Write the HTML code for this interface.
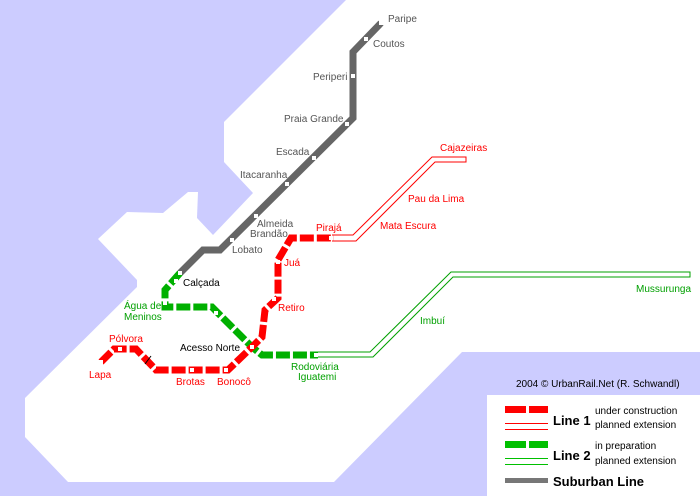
<!DOCTYPE html>
<html><head><meta charset="utf-8"><style>
body{margin:0;background:#ccccff}
svg{display:block}
text{font-family:"Liberation Sans",sans-serif;font-size:10px}
</style></head><body>
<svg width="700" height="496" viewBox="0 0 700 496" xmlns="http://www.w3.org/2000/svg">
<rect width="700" height="496" fill="#ccccff"/>
<polygon fill="#fff" points="346,0 700,0 700,352 462,352 334,482 68,482 25,437 25,398 137,287 137,280 98,239 127,212 163,213 188,192 198,192 197,218 213,235 253,193 224,162 224,122"/>
<rect x="487" y="395" width="213" height="101" fill="#fff"/>
<!-- suburban -->
<polyline fill="none" stroke="#666" stroke-width="7" points="381,23 353,52 353,118 220,250 203,250 180,273"/>
<!-- line 2 -->
<polyline fill="none" stroke="#00b000" stroke-width="7" stroke-dasharray="14 3" points="180,273 165,290 165,307 212,307 252,347 262,355 318,355"/>
<polyline fill="none" stroke="#00a000" stroke-width="1" points="318,352 370,352 451,272 690,272 690,277 453,277 373,357 318,357"/>
<!-- line 1 -->
<polyline fill="none" stroke="#ff0000" stroke-width="7" stroke-dasharray="14 3" points="101,362 114,349 136,349 156,370 228,370 252,347 262,337 265,310 278,298 278,260 291,238 334,238"/>
<polyline fill="none" stroke="#ff0000" stroke-width="1" points="332,235 353,235 432,157 466,157 466,162 435,162 356,241 332,241"/>
<line x1="145" y1="364" x2="151" y2="356" stroke="#000" stroke-width="1"/>
<!-- stations -->
<g fill="#fff">
<rect x="379" y="21" width="4" height="4"/><rect x="364" y="37" width="4" height="4"/><rect x="351" y="74" width="4" height="4"/><rect x="345" y="122" width="4" height="4"/><rect x="312" y="156" width="4" height="4"/><rect x="285" y="182" width="4" height="4"/><rect x="254" y="214" width="4" height="4"/><rect x="230" y="238" width="4" height="4"/><rect x="178" y="271" width="4" height="4"/><rect x="174" y="279" width="4" height="4"/>
<rect x="163" y="301" width="4" height="4"/><rect x="214" y="311" width="4" height="4"/><rect x="250" y="345" width="4" height="4"/><rect x="314" y="353" width="4" height="4"/>
<rect x="99" y="360" width="4" height="4"/><rect x="118" y="347" width="4" height="4"/><rect x="190" y="368" width="4" height="4"/><rect x="224" y="368" width="4" height="4"/><rect x="272" y="297" width="4" height="4"/><rect x="276" y="260" width="4" height="4"/><rect x="329" y="236" width="4" height="4"/>
</g>
<!-- labels -->
<g fill="#555">
<text x="388" y="22">Paripe</text><text x="373" y="47">Coutos</text><text x="313" y="80">Periperi</text><text x="284" y="122">Praia Grande</text><text x="276" y="155">Escada</text><text x="240" y="178">Itacaranha</text><text x="257" y="227">Almeida</text><text x="250" y="237">Brandão</text><text x="232" y="253">Lobato</text>
</g>
<g fill="#000"><text x="183" y="286">Calçada</text><text x="180" y="351">Acesso Norte</text></g>
<g fill="#00a000"><text x="124" y="309">Água de</text><text x="124" y="320">Meninos</text><text x="291" y="370">Rodoviária</text><text x="298" y="380">Iguatemi</text><text x="420" y="324">Imbuí</text><text x="636" y="292">Mussurunga</text></g>
<g fill="#ff0000"><text x="109" y="342">Pólvora</text><text x="89" y="378">Lapa</text><text x="176" y="385">Brotas</text><text x="217" y="385">Bonocô</text><text x="278" y="311">Retiro</text><text x="284" y="266">Juá</text><text x="316" y="231">Pirajá</text><text x="380" y="229">Mata Escura</text><text x="408" y="202">Pau da Lima</text><text x="440" y="151">Cajazeiras</text></g>
<text x="516" y="387" fill="#000">2004 © UrbanRail.Net (R. Schwandl)</text>
<!-- legend -->
<rect x="505" y="406" width="21" height="7" fill="#ff0000"/><rect x="529" y="406" width="19" height="7" fill="#ff0000"/>
<line x1="505" y1="423.5" x2="548" y2="423.5" stroke="#ff0000"/><line x1="505" y1="429.5" x2="548" y2="429.5" stroke="#ff0000"/>
<rect x="505" y="441" width="21" height="7" fill="#00c000"/><rect x="529" y="441" width="19" height="7" fill="#00c000"/>
<line x1="505" y1="458.5" x2="548" y2="458.5" stroke="#00c000"/><line x1="505" y1="464.5" x2="548" y2="464.5" stroke="#00c000"/>
<rect x="505" y="478" width="43" height="5" fill="#777"/>
<text x="553" y="425" font-weight="bold" style="font-size:13px">Line 1</text>
<text x="553" y="460" font-weight="bold" style="font-size:13px">Line 2</text>
<text x="553" y="486" font-weight="bold" style="font-size:13px">Suburban Line</text>
<text x="595" y="414">under construction</text><text x="595" y="428">planned extension</text>
<text x="595" y="449">in preparation</text><text x="595" y="464">planned extension</text>
</svg>
</body></html>
